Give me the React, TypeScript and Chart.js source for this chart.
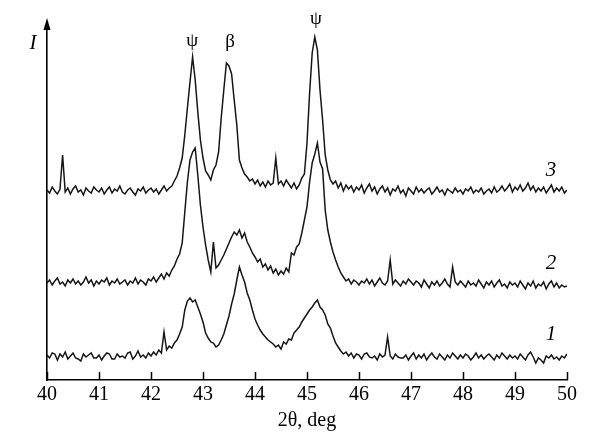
import { useEffect, useRef } from "react";
import { Chart, registerables } from "chart.js";

Chart.register(...registerables);

// 2θ sampling (deg)
const twoTheta = [
  40, 40.05, 40.1, 40.15, 40.2, 40.25, 40.3, 40.35, 40.4, 40.45,
  40.5, 40.55, 40.6, 40.65, 40.7, 40.75, 40.8, 40.85, 40.9, 40.95,
  41, 41.05, 41.1, 41.15, 41.2, 41.25, 41.3, 41.35, 41.4, 41.45,
  41.5, 41.55, 41.6, 41.65, 41.7, 41.75, 41.8, 41.85, 41.9, 41.95,
  42, 42.05, 42.1, 42.15, 42.2, 42.25, 42.3, 42.35, 42.4, 42.45,
  42.5, 42.55, 42.6, 42.65, 42.7, 42.75, 42.8, 42.85, 42.9, 42.95,
  43, 43.05, 43.1, 43.15, 43.2, 43.25, 43.3, 43.35, 43.4, 43.45,
  43.5, 43.55, 43.6, 43.65, 43.7, 43.75, 43.8, 43.85, 43.9, 43.95,
  44, 44.05, 44.1, 44.15, 44.2, 44.25, 44.3, 44.35, 44.4, 44.45,
  44.5, 44.55, 44.6, 44.65, 44.7, 44.75, 44.8, 44.85, 44.9, 44.95,
  45, 45.05, 45.1, 45.15, 45.2, 45.25, 45.3, 45.35, 45.4, 45.45,
  45.5, 45.55, 45.6, 45.65, 45.7, 45.75, 45.8, 45.85, 45.9, 45.95,
  46, 46.05, 46.1, 46.15, 46.2, 46.25, 46.3, 46.35, 46.4, 46.45,
  46.5, 46.55, 46.6, 46.65, 46.7, 46.75, 46.8, 46.85, 46.9, 46.95,
  47, 47.05, 47.1, 47.15, 47.2, 47.25, 47.3, 47.35, 47.4, 47.45,
  47.5, 47.55, 47.6, 47.65, 47.7, 47.75, 47.8, 47.85, 47.9, 47.95,
  48, 48.05, 48.1, 48.15, 48.2, 48.25, 48.3, 48.35, 48.4, 48.45,
  48.5, 48.55, 48.6, 48.65, 48.7, 48.75, 48.8, 48.85, 48.9, 48.95,
  49, 49.05, 49.1, 49.15, 49.2, 49.25, 49.3, 49.35, 49.4, 49.45,
  49.5, 49.55, 49.6, 49.65, 49.7, 49.75, 49.8, 49.85, 49.9, 49.95,
  50,
];

// Intensity (arb. units, curves offset vertically)
const curve1 = [
  25, 22, 27, 26, 20, 26, 23, 28, 21, 24,
  27, 22, 21, 19, 26, 23, 25, 27, 22, 22,
  25, 20, 24, 27, 26, 21, 21, 26, 23, 24,
  22, 27, 28, 21, 24, 29, 23, 25, 22, 27,
  24, 28, 25, 30, 27, 48, 30, 34, 32, 37,
  40, 46, 53, 70, 79, 82, 78, 80, 73, 66,
  58, 47, 42, 38, 37, 33, 35, 40, 46, 55,
  64, 76, 86, 100, 113, 105, 98, 87, 80, 70,
  61, 55, 50, 46, 43, 40, 38, 36, 33, 35,
  31, 38, 36, 41, 40, 47, 50, 53, 58, 62,
  66, 70, 73, 77, 80, 73, 70, 65, 56, 52,
  44, 37, 33, 29, 26, 28, 24, 27, 22, 26,
  25, 21, 26, 27, 23, 22, 24, 20, 26, 23,
  25, 43, 24, 21, 26, 23, 22, 22, 25, 20,
  24, 27, 21, 25, 22, 26, 20, 24, 27, 23,
  21, 26, 23, 20, 25, 22, 27, 24, 21, 25,
  22, 26, 24, 20, 23, 27, 22, 25, 21, 24,
  26, 23, 20, 25, 22, 27, 24, 21, 25, 22,
  24, 21, 26, 23, 20, 25, 28, 23, 17, 22,
  20, 17, 24, 22, 25, 21, 23, 20, 24, 22,
  26,
];

const curve2 = [
  97, 100, 95, 99, 102, 96, 98, 94, 100, 97,
  101, 96, 99, 95, 98, 103, 97, 100, 94, 99,
  96, 100, 98, 102, 95, 99, 97, 101, 96, 98,
  100, 95, 99, 97, 102, 96, 100, 98, 95, 101,
  99, 103, 98, 102, 106, 101, 107, 104, 110, 114,
  121, 126, 137, 168, 198, 220, 228, 232, 205, 175,
  153, 135, 120, 108, 138, 112, 115, 120, 125, 131,
  137, 143, 148, 145, 150, 142, 147, 138, 133, 127,
  123, 118, 121, 113, 116, 110, 114, 107, 111, 105,
  109, 106, 112, 108, 127, 125, 133, 136, 147, 160,
  173, 198, 217, 226, 237, 218, 211, 170, 150, 138,
  128, 120, 113, 107, 103, 99, 101, 96, 100, 98,
  95, 99, 97, 101, 96, 100, 94, 98, 102, 97,
  95, 99, 120, 96, 100, 97, 94, 99, 96, 101,
  98, 95, 99, 97, 93, 100, 96, 92, 98, 95,
  99, 94, 97, 101, 96, 93, 113, 98, 95, 99,
  96, 93, 99, 95, 97, 94, 100, 96, 92, 98,
  95, 99, 93, 97, 100, 94, 96, 92, 98, 95,
  97, 93, 99, 95, 91, 97, 94, 99, 92, 96,
  94, 98, 91, 96, 99, 93, 97, 92, 95, 93,
  94,
];

const curve3 = [
  190, 187, 193, 189, 186, 191, 225, 188, 192, 186,
  191, 194, 188, 190, 185, 192, 189, 187, 193, 190,
  188, 192, 186, 190, 193, 187, 191, 189, 194, 188,
  186, 190, 192, 188, 185, 191, 189, 193, 187, 190,
  192, 188, 191, 186, 190, 194, 189, 192, 194, 199,
  204, 212, 222, 245, 272, 298, 323, 300, 268, 240,
  222, 209, 205, 200, 210, 215, 228, 262, 290, 317,
  314, 306, 280, 255, 220, 212, 206, 203, 199, 201,
  196, 200, 194, 198, 193, 199, 195, 197, 222, 196,
  199, 194, 200, 196, 192, 197, 191, 195, 202, 206,
  237, 287, 327, 343, 330, 290, 260, 225, 210, 200,
  196, 199, 192, 197, 189, 195, 191, 194, 188, 193,
  190, 195, 187, 192, 196, 189, 193, 186, 191, 194,
  188, 192, 185, 191, 189, 194, 187, 190, 184, 192,
  189, 186, 193, 188, 191, 187, 190, 192, 186, 189,
  193, 188, 190, 185, 191, 189, 187, 192, 188, 190,
  186, 191, 189, 193, 187, 190, 188, 192, 186, 189,
  191, 187, 193, 188, 190, 194, 189, 192, 196, 188,
  193, 190, 195, 189, 192, 197, 190, 194, 188, 192,
  189, 193, 187, 191, 195, 188, 192, 189, 193, 187,
  190,
];

const xTicks = [40, 41, 42, 43, 44, 45, 46, 47, 48, 49, 50];
const xTitle = "2θ, deg";
const yTitle = "I";

const peakLabels = ["ψ", "β", "ψ"];
const peakX = [42.79, 43.52, 45.17];
const peakY = [339, 338, 361];

const curveLabels = ["1", "2", "3"];
const curveLabelX = [49.69, 49.69, 49.69];
const curveLabelY = [46, 117, 210];

const SERIF = "'Liberation Serif', 'Times New Roman', serif";

export default function App() {
  const canvasRef = useRef<HTMLCanvasElement | null>(null);

  useEffect(() => {
    const canvas = canvasRef.current;
    if (!canvas) return;

    const series = [curve1, curve2, curve3];
    const datasets = series.map((s, k) => ({
      label: "curve " + (k + 1),
      data: twoTheta.map((x, i) => ({ x, y: s[i] })),
      borderColor: "#161616",
      borderWidth: 1.5,
      pointRadius: 0,
      fill: false,
      tension: 0,
    }));

    const decor = {
      id: "decor",
      afterDraw(chart: any) {
        const ctx = chart.ctx;
        const xs = chart.scales.x;
        const ys = chart.scales.y;
        const area = chart.chartArea;
        ctx.save();
        ctx.strokeStyle = "#000";
        ctx.fillStyle = "#000";
        ctx.lineWidth = 1.5;
        // inward ticks
        xTicks.forEach((t) => {
          const px = Math.round(xs.getPixelForValue(t)) + 0.5;
          ctx.beginPath();
          ctx.moveTo(px, area.bottom);
          ctx.lineTo(px, area.bottom - 8);
          ctx.stroke();
        });
        // y axis arrow
        const ax = area.left;
        ctx.beginPath();
        ctx.moveTo(ax, area.top - 4);
        ctx.lineTo(ax - 3.5, area.top + 8);
        ctx.lineTo(ax + 3.5, area.top + 8);
        ctx.closePath();
        ctx.fill();
        // y title
        ctx.font = "italic 21px " + SERIF;
        ctx.textAlign = "center";
        ctx.textBaseline = "middle";
        ctx.fillText(yTitle, ax - 14, area.top + 21);
        // peak labels
        ctx.font = "19px " + SERIF;
        peakLabels.forEach((lab, i) => {
          ctx.fillText(lab, xs.getPixelForValue(peakX[i]), ys.getPixelForValue(peakY[i]));
        });
        // curve labels
        ctx.font = "italic 21px " + SERIF;
        curveLabels.forEach((lab, i) => {
          ctx.fillText(lab, xs.getPixelForValue(curveLabelX[i]), ys.getPixelForValue(curveLabelY[i]));
        });
        ctx.restore();
      },
    };

    const chart = new Chart(canvas, {
      type: "line",
      data: { datasets },
      options: {
        animation: false,
        responsive: false,
        devicePixelRatio: 1,
        layout: { padding: { left: 0, right: 24, top: 22, bottom: 0 } },
        plugins: {
          legend: { display: false },
          tooltip: { enabled: false },
        },
        scales: {
          x: {
            type: "linear",
            min: 40,
            max: 50,
            afterFit: (s: any) => {
              s.height = 64;
            },
            afterBuildTicks: (s: any) => {
              s.ticks = xTicks.map((v) => ({ value: v }));
            },
            ticks: {
              padding: 3,
              color: "#000",
              font: { family: SERIF, size: 20 },
              maxRotation: 0,
            },
            grid: { display: false, drawTicks: false },
            border: { display: true, color: "#000", width: 1.6 },
            title: {
              display: true,
              text: xTitle,
              color: "#000",
              font: { family: SERIF, size: 20 },
              padding: { top: 0, bottom: 11 },
            },
          },
          y: {
            type: "linear",
            min: 0,
            max: 358,
            afterFit: (s: any) => {
              s.width = 47;
            },
            ticks: { display: false },
            grid: { display: false, drawTicks: false },
            border: { display: true, color: "#000", width: 1.6 },
          },
        },
      },
      plugins: [decor],
    });

    return () => chart.destroy();
  }, []);

  return (
    <div style={{ position: "absolute", left: 0, top: 0, width: 591, height: 444, background: "#fff" }}>
      <canvas ref={canvasRef} width={591} height={444} />
    </div>
  );
}
